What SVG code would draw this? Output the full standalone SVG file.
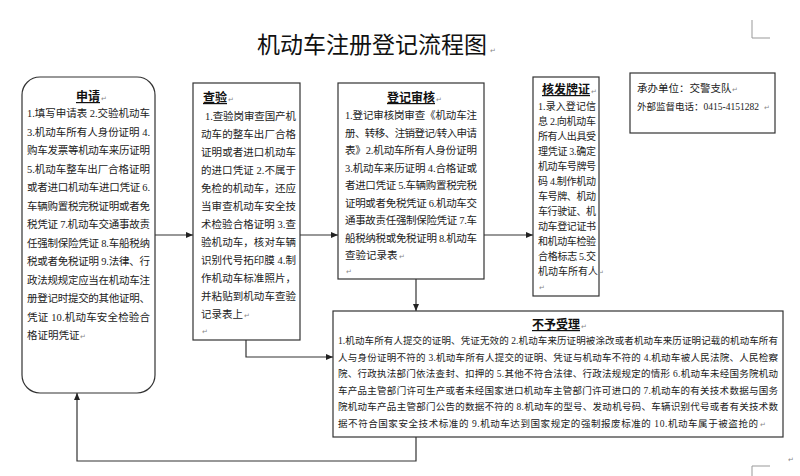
<svg xmlns="http://www.w3.org/2000/svg" width="800" height="476" viewBox="0 0 800 476">
<defs>
<style>
.bg{fill:#fff}
.box{fill:#fff;stroke:#333;stroke-width:1.2}
.t{font-family:"Liberation Serif","Noto Sans CJK SC",serif;font-size:10.5px;fill:#222}
.t4{font-family:"Liberation Serif","Noto Sans CJK SC",serif;font-size:10px;fill:#222}
.t6{font-family:"Liberation Serif","Noto Sans CJK SC",serif;font-size:9.5px;fill:#222}
.h{font-family:"Noto Sans CJK SC",sans-serif;font-size:12px;font-weight:bold;fill:#111;text-decoration:underline}
.title{font-family:"Noto Sans CJK SC",sans-serif;font-size:23px;fill:#111}
.pm{font-family:"DejaVu Sans",sans-serif;font-size:7px;fill:#888}
.ln{fill:none;stroke:#333;stroke-width:1.2}
.mark{fill:none;stroke:#999;stroke-width:1}
</style>
<marker id="ar" markerWidth="8" markerHeight="8" refX="7" refY="4" orient="auto" markerUnits="userSpaceOnUse">
<path d="M0,1 L7,4 L0,7 Z" fill="#222"/>
</marker>
</defs>
<rect class="bg" x="0" y="0" width="800" height="476"/>
<path class="mark" d="M752,20 V38 H770"/>
<path class="mark" d="M752,476 V466 H770"/>
<text class="pm" x="788" y="462">↵</text>
<text class="title" x="257" y="53">机动车注册登记流程图</text><text class="pm" x="490" y="53">↵</text>

<g id="connectors">
<line class="ln" x1="155" y1="235" x2="193" y2="235" marker-end="url(#ar)"/>
<line class="ln" x1="300" y1="235" x2="338" y2="235" marker-end="url(#ar)"/>
<line class="ln" x1="484" y1="235" x2="533" y2="235" marker-end="url(#ar)"/>
<polyline class="ln" points="246,340 246,357 333,357" marker-end="url(#ar)"/>
<line class="ln" x1="416" y1="279" x2="416" y2="311" marker-end="url(#ar)"/>
<polyline class="ln" points="416,437 416,461 77,461 77,393" marker-end="url(#ar)"/>
</g>

<g id="apply">
<rect class="box" x="22" y="77" width="133" height="316" rx="18"/>
<text class="h" x="88" y="101" text-anchor="middle">申请</text><text class="pm" x="101" y="101">↵</text>
<text class="t" x="27" y="117" textLength="123" lengthAdjust="spacing">1.填写申请表 2.交验机动车</text>
<text class="t" x="27" y="135.5" textLength="123" lengthAdjust="spacing">3.机动车所有人身份证明 4.</text>
<text class="t" x="27" y="154" textLength="123" lengthAdjust="spacing">购车发票等机动车来历证明</text>
<text class="t" x="27" y="172.5" textLength="123" lengthAdjust="spacing">5.机动车整车出厂合格证明</text>
<text class="t" x="27" y="191" textLength="123" lengthAdjust="spacing">或者进口机动车进口凭证 6.</text>
<text class="t" x="27" y="209.5" textLength="123" lengthAdjust="spacing">车辆购置税完税证明或者免</text>
<text class="t" x="27" y="228" textLength="123" lengthAdjust="spacing">税凭证 7.机动车交通事故责</text>
<text class="t" x="27" y="246.5" textLength="123" lengthAdjust="spacing">任强制保险凭证 8.车船税纳</text>
<text class="t" x="27" y="265" textLength="123" lengthAdjust="spacing">税或者免税证明 9.法律、行</text>
<text class="t" x="27" y="283.5" textLength="123" lengthAdjust="spacing">政法规规定应当在机动车注</text>
<text class="t" x="27" y="302" textLength="123" lengthAdjust="spacing">册登记时提交的其他证明、</text>
<text class="t" x="27" y="320.5" textLength="123" lengthAdjust="spacing">凭证 10.机动车安全检验合</text>
<text class="t" x="27" y="339">格证明凭证</text><text class="pm" x="80" y="339">↵</text>
</g>

<g id="inspect">
<rect class="box" x="193" y="83" width="107" height="257"/>
<text class="h" x="203" y="102">查验</text><text class="pm" x="228" y="102">↵</text>
<text class="t" x="205" y="120" textLength="91" lengthAdjust="spacing">1.查验岗审查国产机</text>
<text class="t" x="201" y="138" textLength="95" lengthAdjust="spacing">动车的整车出厂合格</text>
<text class="t" x="201" y="156" textLength="95" lengthAdjust="spacing">证明或者进口机动车</text>
<text class="t" x="201" y="174" textLength="95" lengthAdjust="spacing">的进口凭证 2.不属于</text>
<text class="t" x="201" y="192" textLength="95" lengthAdjust="spacing">免检的机动车，还应</text>
<text class="t" x="201" y="210" textLength="95" lengthAdjust="spacing">当审查机动车安全技</text>
<text class="t" x="201" y="228" textLength="95" lengthAdjust="spacing">术检验合格证明 3.查</text>
<text class="t" x="201" y="246" textLength="95" lengthAdjust="spacing">验机动车，核对车辆</text>
<text class="t" x="201" y="264" textLength="95" lengthAdjust="spacing">识别代号拓印膜 4.制</text>
<text class="t" x="201" y="282" textLength="95" lengthAdjust="spacing">作机动车标准照片，</text>
<text class="t" x="201" y="300" textLength="95" lengthAdjust="spacing">并粘贴到机动车查验</text>
<text class="t" x="201" y="318">记录表上</text><text class="pm" x="244" y="318">↵</text>
<text class="pm" x="202" y="334">↵</text>
</g>

<g id="review">
<rect class="box" x="338" y="83" width="146" height="196"/>
<text class="h" x="411" y="102" text-anchor="middle">登记审核</text><text class="pm" x="436" y="102">↵</text>
<text class="t" x="345" y="119" textLength="132" lengthAdjust="spacing">1.登记审核岗审查《机动车注</text>
<text class="t" x="345" y="136.5" textLength="132" lengthAdjust="spacing">册、转移、注销登记/转入申请</text>
<text class="t" x="345" y="154" textLength="132" lengthAdjust="spacing">表》2.机动车所有人身份证明</text>
<text class="t" x="345" y="171.5" textLength="132" lengthAdjust="spacing">3.机动车来历证明 4.合格证或</text>
<text class="t" x="345" y="189" textLength="132" lengthAdjust="spacing">者进口凭证 5.车辆购置税完税</text>
<text class="t" x="345" y="206.5" textLength="132" lengthAdjust="spacing">证明或者免税凭证 6.机动车交</text>
<text class="t" x="345" y="224" textLength="132" lengthAdjust="spacing">通事故责任强制保险凭证 7.车</text>
<text class="t" x="345" y="241.5" textLength="132" lengthAdjust="spacing">船税纳税或免税证明 8.机动车</text>
<text class="t" x="345" y="259">查验记录表</text><text class="pm" x="399" y="259">↵</text>
<text class="pm" x="346" y="274">↵</text>
</g>

<g id="issue">
<rect class="box" x="533" y="77" width="66" height="219"/>
<text class="h" x="566" y="94" text-anchor="middle">核发牌证</text><text class="pm" x="591" y="94">↵</text>
<text class="t4" x="538" y="110" textLength="58" lengthAdjust="spacing">1.录入登记信</text>
<text class="t4" x="538" y="125" textLength="58" lengthAdjust="spacing">息 2.向机动车</text>
<text class="t4" x="538" y="140" textLength="58" lengthAdjust="spacing">所有人出具受</text>
<text class="t4" x="538" y="155" textLength="58" lengthAdjust="spacing">理凭证 3.确定</text>
<text class="t4" x="538" y="170" textLength="58" lengthAdjust="spacing">机动车号牌号</text>
<text class="t4" x="538" y="185" textLength="58" lengthAdjust="spacing">码 4.制作机动</text>
<text class="t4" x="538" y="200" textLength="58" lengthAdjust="spacing">车号牌、机动</text>
<text class="t4" x="538" y="215" textLength="58" lengthAdjust="spacing">车行驶证、机</text>
<text class="t4" x="538" y="230" textLength="58" lengthAdjust="spacing">动车登记证书</text>
<text class="t4" x="538" y="245" textLength="58" lengthAdjust="spacing">和机动车检验</text>
<text class="t4" x="538" y="260" textLength="58" lengthAdjust="spacing">合格标志 5.交</text>
<text class="t4" x="538" y="275">机动车所有人</text><text class="pm" x="598" y="275">↵</text>
<text class="pm" x="539" y="290">↵</text>
</g>

<g id="contact">
<rect class="box" x="630" y="73" width="145" height="60"/>
<text class="t" x="637" y="92">承办单位：交警支队</text><text class="pm" x="732" y="92">↵</text>
<text class="t" x="637" y="110" style="font-size:9.5px">外部监督电话：0415-4151282</text><text class="pm" x="764" y="110">↵</text>
</g>

<g id="reject">
<rect class="box" x="333" y="311" width="450" height="126"/>
<text class="h" x="556" y="329" text-anchor="middle">不予受理</text><text class="pm" x="581" y="329">↵</text>
<text class="t6" x="338" y="344" textLength="440" lengthAdjust="spacing">1.机动车所有人提交的证明、凭证无效的 2.机动车来历证明被涂改或者机动车来历证明记载的机动车所有</text>
<text class="t6" x="338" y="360.5" textLength="440" lengthAdjust="spacing">人与身份证明不符的 3.机动车所有人提交的证明、凭证与机动车不符的 4.机动车被人民法院、人民检察</text>
<text class="t6" x="338" y="377" textLength="440" lengthAdjust="spacing">院、行政执法部门依法查封、扣押的 5.其他不符合法律、行政法规规定的情形 6.机动车未经国务院机动</text>
<text class="t6" x="338" y="393.5" textLength="440" lengthAdjust="spacing">车产品主管部门许可生产或者未经国家进口机动车主管部门许可进口的 7.机动车的有关技术数据与国务</text>
<text class="t6" x="338" y="410" textLength="440" lengthAdjust="spacing">院机动车产品主管部门公告的数据不符的 8.机动车的型号、发动机号码、车辆识别代号或者有关技术数</text>
<text class="t6" x="338" y="426.5" textLength="420" lengthAdjust="spacing">据不符合国家安全技术标准的 9.机动车达到国家规定的强制报废标准的 10.机动车属于被盗抢的</text><text class="pm" x="760" y="426.5">↵</text>
</g>
</svg>
